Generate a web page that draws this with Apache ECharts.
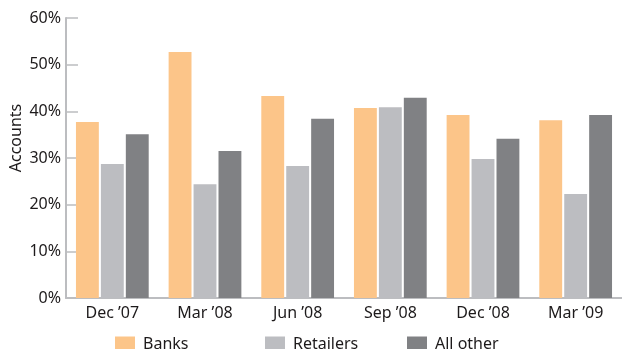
<!DOCTYPE html>
<html><head><meta charset="utf-8">
<script src="https://cdn.jsdelivr.net/npm/echarts@6/dist/echarts.min.js"></script>
<style>html,body{margin:0;padding:0;background:#fff}#c{width:622px;height:349px}</style>
</head><body><div id="c"></div>
<script>
const categories = ["Dec \u201907", "Mar \u201908", "Jun \u201908", "Sep \u201908", "Dec \u201908", "Mar \u201909"];
const banks = [37.7, 52.7, 43.3, 40.7, 39.2, 38.1];
const retailers = [28.7, 24.4, 28.3, 40.9, 29.8, 22.3];
const allOther = [35.1, 31.5, 38.4, 42.9, 34.1, 39.2];
const yTicks = [0, 10, 20, 30, 40, 50, 60];

const font = "Noto Sans";
const txt = "#1d1a1b";
const axisGray = "#bcbdc0";
const chart = echarts.init(document.getElementById('c'));
const mkLegend = (name, left) => ({
  data: [name], left: left, top: 336, padding: 0, itemWidth: 20, itemHeight: 15, icon: 'rect',
  textStyle: {fontFamily: font, fontSize: 16, color: txt, padding: [0,0,0,3]}
});
chart.setOption({
  animation: false,
  textStyle: {fontFamily: font},
  legend: [mkLegend('Banks', 115), mkLegend('Retailers', 265), mkLegend('All other', 407)],
  grid: {left: 66, right: 0, top: 18, bottom: 51, containLabel: false, outerBoundsMode: 'none'},
  xAxis: {
    type: 'category', data: categories, boundaryGap: true,
    axisLine: {lineStyle: {color: axisGray, width: 2}},
    axisTick: {inside: true, length: 7, lineStyle: {color: axisGray, width: 1.5}},
    axisLabel: {color: txt, fontSize: 16, margin: 7, fontFamily: font}
  },
  yAxis: {
    type: 'value', min: yTicks[0], max: yTicks[yTicks.length - 1], interval: 10,
    name: 'Accounts', nameLocation: 'middle', nameGap: 42, nameRotate: 90, nameMoveOverlap: false,
    nameTextStyle: {color: txt, fontSize: 16, fontFamily: font, padding: [0, 0, 0, 40]},
    axisLine: {show: true, lineStyle: {color: axisGray, width: 2}},
    axisTick: {show: true, inside: true, length: 12, lineStyle: {color: axisGray, width: 1.5}},
    splitLine: {show: false},
    axisLabel: {color: txt, fontSize: 16, margin: 5, fontFamily: font, formatter: v => v + '%'}
  },
  series: [
    {name: 'Banks', type: 'bar', data: banks, itemStyle: {color: '#fcc589'}, barGap: '9%', barCategoryGap: '21.5%'},
    {name: 'Retailers', type: 'bar', data: retailers, itemStyle: {color: '#bcbdc1'}},
    {name: 'All other', type: 'bar', data: allOther, itemStyle: {color: '#808184'}}
  ]
});
</script></body></html>
